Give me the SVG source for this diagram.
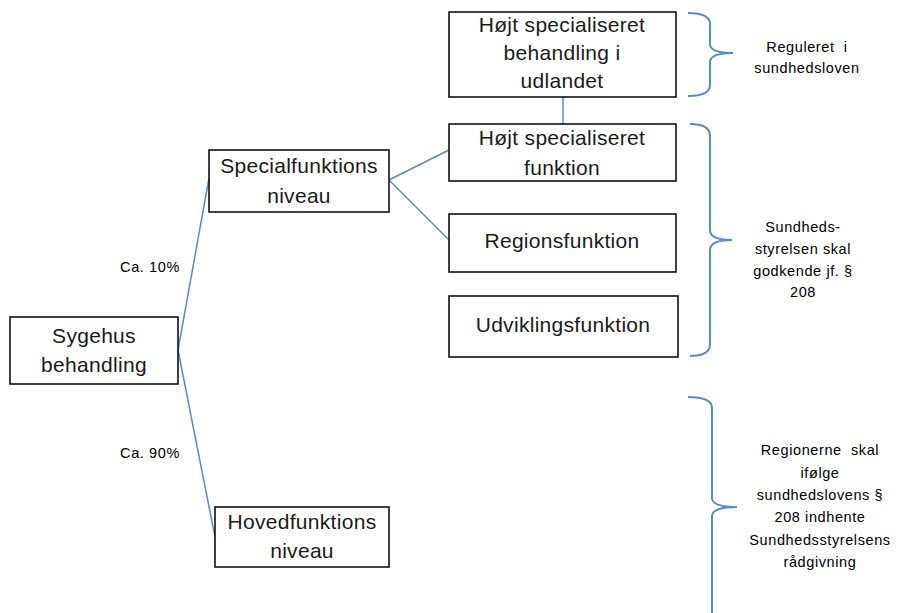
<svg xmlns="http://www.w3.org/2000/svg" width="899" height="613" viewBox="0 0 899 613">
<style>
.box{fill:#fff;stroke:#111;stroke-width:1.6}
.bt{font-family:"Liberation Sans",Arial,sans-serif;font-size:21px;fill:#1a1a1a;text-anchor:middle;letter-spacing:0.3px}
.st{font-family:"Liberation Sans",Arial,sans-serif;font-size:14.5px;fill:#000;text-anchor:middle;letter-spacing:0.6px;white-space:pre}
.ln{fill:none;stroke:#5b8ac6;stroke-width:1.5}
.br{fill:none;stroke:#5b8ac6;stroke-width:2}
</style>
<rect width="899" height="613" fill="#fff"/>
<g id="connectors">
<line class="ln" x1="178" y1="350" x2="209" y2="178"/>
<line class="ln" x1="178" y1="350" x2="215" y2="537"/>
<line class="ln" x1="389" y1="180" x2="449" y2="150"/>
<line class="ln" x1="389" y1="180" x2="449" y2="240"/>
<line class="ln" x1="563" y1="97" x2="563" y2="124"/>
</g>
<g id="braces">
<path class="br" d="M688,13 Q710,13 710,24 L710,44 Q710,53 733,53 Q710,53 710,62 L710,85 Q710,96 688,96"/>
<path class="br" d="M690,124 Q710,124 710,136 L710,230 Q710,240 732,240 Q710,240 710,250 L710,344 Q710,356 690,356"/>
<path class="br" d="M688,397 Q712,397 712,408 L712,498 Q712,507 737,507 Q712,507 712,516 L712,613"/>
</g>
<g id="n-sygehus">
<rect class="box" x="10" y="317" width="168" height="67"/>
<text class="bt" x="94" y="343">Sygehus</text>
<text class="bt" x="94" y="372">behandling</text>
</g>
<g id="n-special">
<rect class="box" x="209" y="150" width="180" height="62"/>
<text class="bt" x="299" y="173">Specialfunktions</text>
<text class="bt" x="299" y="203">niveau</text>
</g>
<g id="n-hoved">
<rect class="box" x="215" y="507" width="174" height="60"/>
<text class="bt" x="302" y="529">Hovedfunktions</text>
<text class="bt" x="302" y="558">niveau</text>
</g>
<g id="n-udland">
<rect class="box" x="449" y="12" width="227" height="85"/>
<text class="bt" x="562" y="32">Højt specialiseret</text>
<text class="bt" x="562" y="60">behandling i</text>
<text class="bt" x="562" y="88">udlandet</text>
</g>
<g id="n-hoejt">
<rect class="box" x="449" y="124" width="227" height="57"/>
<text class="bt" x="562" y="145">Højt specialiseret</text>
<text class="bt" x="562" y="175">funktion</text>
</g>
<g id="n-region">
<rect class="box" x="449" y="214" width="227" height="58"/>
<text class="bt" x="562" y="248">Regionsfunktion</text>
</g>
<g id="n-udvikling">
<rect class="box" x="449" y="296" width="229" height="61"/>
<text class="bt" x="563" y="332">Udviklingsfunktion</text>
</g>
<g id="labels">
<text class="st" x="150" y="272">Ca. 10%</text>
<text class="st" x="150" y="458">Ca. 90%</text>
<text class="st" x="807" y="52">Reguleret  i</text>
<text class="st" x="807" y="73">sundhedsloven</text>
<text class="st" x="803" y="232">Sundheds-</text>
<text class="st" x="803" y="254">styrelsen skal</text>
<text class="st" x="803" y="276">godkende jf. §</text>
<text class="st" x="803" y="297">208</text>
<text class="st" x="820" y="455">Regionerne  skal</text>
<text class="st" x="820" y="478">ifølge</text>
<text class="st" x="820" y="500">sundhedslovens §</text>
<text class="st" x="820" y="522">208 indhente</text>
<text class="st" x="820" y="545">Sundhedsstyrelsens</text>
<text class="st" x="820" y="567">rådgivning</text>
</g>
</svg>
